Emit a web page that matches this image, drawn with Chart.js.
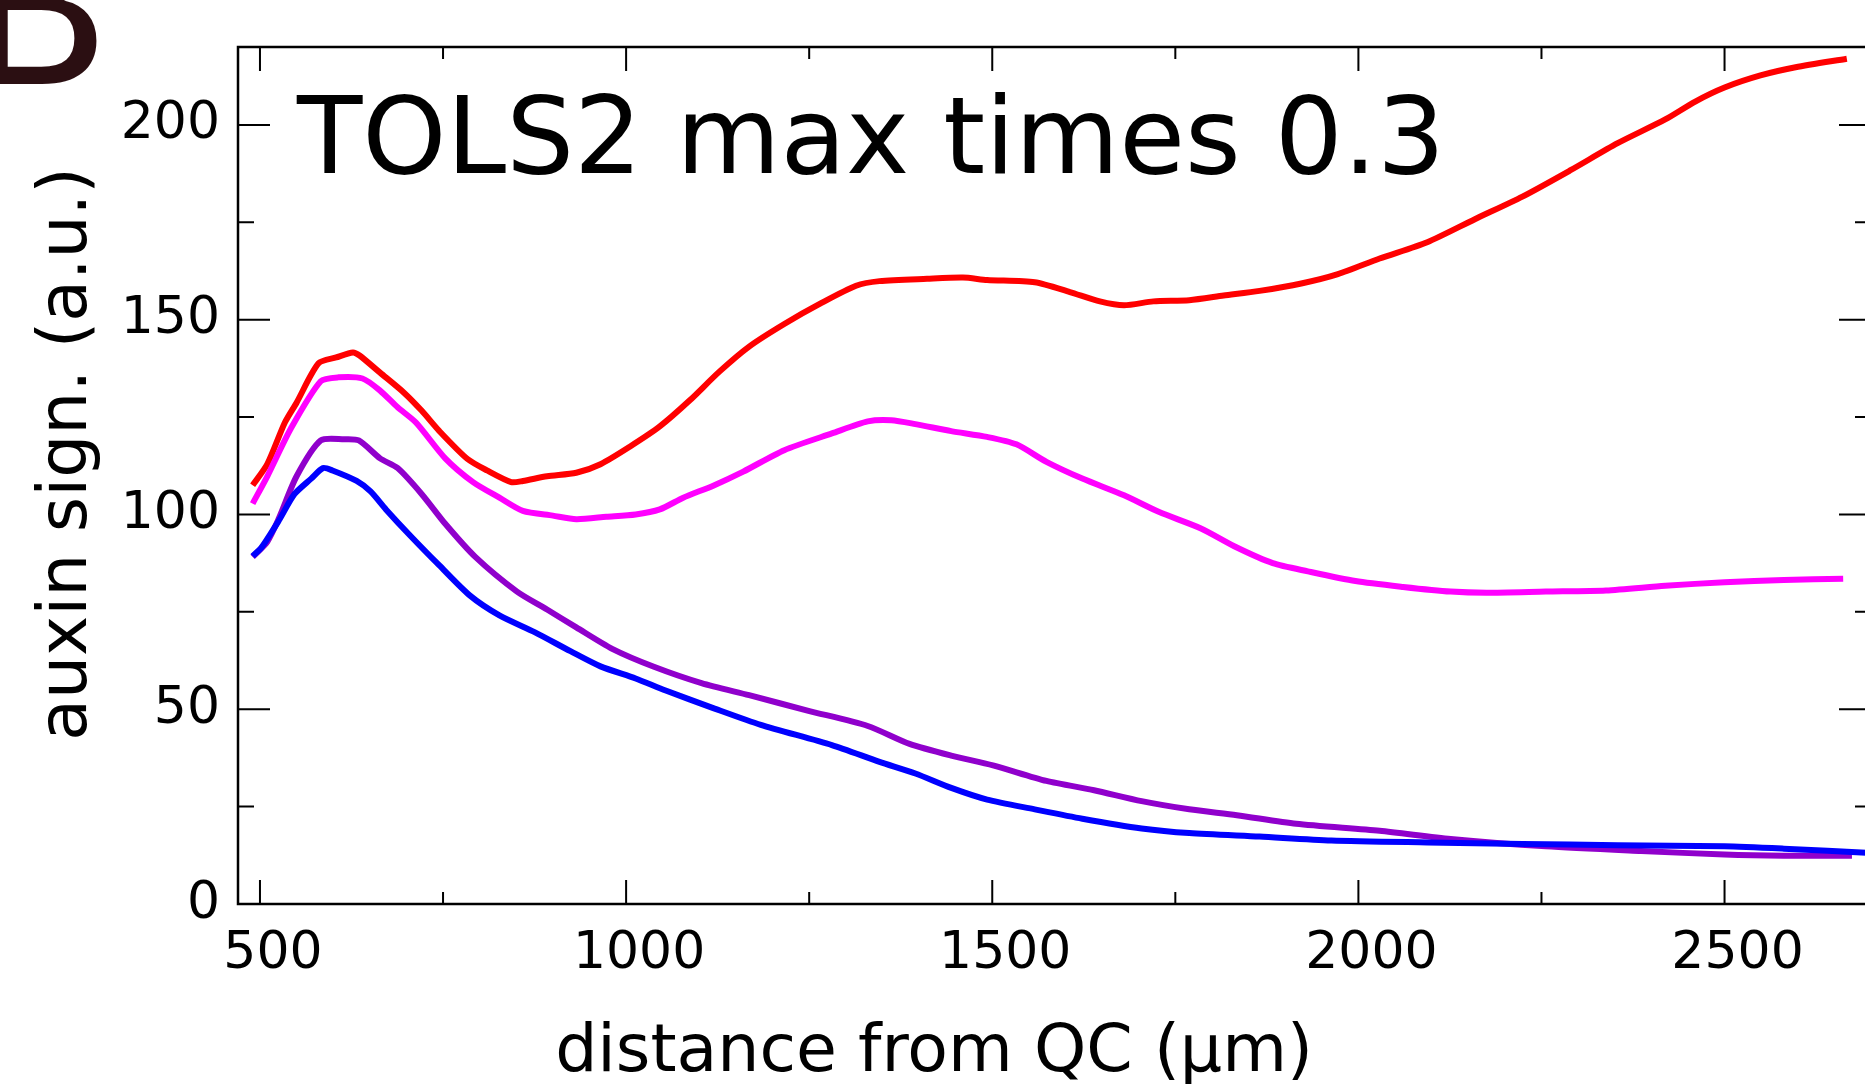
<!DOCTYPE html>
<html>
<head>
<meta charset="utf-8">
<title>TOLS2 max times 0.3</title>
<script src="https://cdn.jsdelivr.net/npm/chart.js@4.4.1/dist/chart.umd.min.js"></script>
<style>
  html, body { margin: 0; padding: 0; background: #fff; overflow: hidden; }
  #wrap { position: relative; width: 1880px; height: 1084px; }
  canvas { display: block; }
</style>
</head>
<body>
<div id="wrap"><canvas id="chart" width="1880" height="1084"></canvas></div>
<script>
// Auxin signal profiles along the root (distance from the quiescent centre)
const panelLetter = 'B';
const panelTitle = 'TOLS2 max times 0.3';
const xAxisTitle = 'distance from QC (µm)';
const yAxisTitle = 'auxin sign. (a.u.)';

const xMajorTicks = [500, 1000, 1500, 2000, 2500];
const xMinorTicks = [750, 1250, 1750, 2250];
const xTickLabels = ['500', '1000', '1500', '2000', '2500'];
const yMajorTicks = [0, 50, 100, 150, 200];
const yMinorTicks = [25, 75, 125, 175];
const yTickLabels = ['0', '50', '100', '150', '200'];

const distRed = [490,510,534,550,580,604,627,636,664,697,721,745,783,810,843,859,892,932,965,1005,1046,1087,1127,1168,1216,1265,1314,1346,1411,1460,1493,1558,1606,1647,1680,1720,1769,1816,1865,1922,1972,2029,2094,2159,2224,2289,2354,2419,2460,2500,2549,2597,2667];
const signalRed = [107.5,112.9,123.6,128.7,138.8,140.3,141.6,140.8,136.4,131.2,126.6,121.4,114.3,111.3,108.3,108.6,109.8,110.7,112.9,117.4,122.6,129.3,136.6,143.1,148.9,154.1,158.7,159.9,160.5,160.8,160.2,159.6,157.1,154.7,153.7,154.7,155.0,156.2,157.4,159.3,161.7,165.7,169.9,175.8,181.6,188.3,195.3,201.4,206.0,209.6,212.7,214.8,217.0];

const distMagenta = [490,510,542,583,607,640,664,688,713,753,791,827,859,900,932,973,1013,1046,1078,1119,1160,1216,1281,1330,1362,1395,1444,1493,1533,1574,1623,1680,1728,1785,1834,1883,1931,1996,2061,2126,2175,2256,2338,2419,2500,2581,2662];
const signalMagenta = [102.8,109.8,122,134.2,135.2,134.9,131.8,127.5,123.6,114.4,108.3,104.3,100.9,99.7,98.8,99.4,100,101.3,104.3,107.4,111,116.5,120.8,123.9,124.2,123.2,121.4,119.9,118.0,113.5,109.2,104.9,100.6,96.4,91.5,87.5,85.4,82.9,81.4,80.2,79.9,80.2,80.5,81.7,82.6,83.2,83.5];

const distPurple = [490,510,526,550,583,615,635,664,688,721,753,794,851,892,932,981,1038,1103,1168,1249,1330,1387,1444,1501,1574,1639,1704,1769,1834,1915,2029,2126,2256,2386,2500,2581,2674];
const signalPurple = [89.1,93.0,99.1,109.8,119,119.3,119,114.4,111.9,105.2,97.6,89.1,80.2,75.6,71.0,65.5,60.9,56.7,53.6,49.6,45.7,41.1,38.1,35.6,31.6,29.2,26.4,24.3,22.8,20.6,18.8,16.7,14.8,13.6,12.7,12.4,12.4];

const distBlue = [490,502,526,547,570,586,599,632,651,672,705,745,786,827,875,924,965,1013,1054,1119,1184,1281,1346,1395,1444,1493,1558,1623,1704,1769,1865,1963,2094,2224,2354,2500,2581,2700];
const signalBlue = [89.3,91.5,98.5,105.2,109.2,111.9,111.3,108.6,105.9,101.3,94.6,86.9,79.3,74.1,69.8,64.9,61.0,57.9,54.8,50.3,46.0,40.8,36.5,33.5,29.8,26.8,24.3,21.9,19.4,18.2,17.3,16.3,15.8,15.4,15.1,14.8,14.2,13.1];

const FONT = "'DejaVu Sans', 'Liberation Sans', sans-serif";

function pairs(xs, ys) {
  return xs.map((x, i) => ({ x: x, y: ys[i] }));
}

function lineSet(xs, ys, color) {
  return {
    data: pairs(xs, ys),
    borderColor: color,
    borderWidth: 6,
    pointRadius: 0,
    fill: false,
    tension: 0.25,
    borderCapStyle: 'butt',
    borderJoinStyle: 'round'
  };
}

// Closed frame with inward-pointing tick marks on all four sides,
// plus the distance labels under the bottom edge
const framePlugin = {
  id: 'frame',
  afterDraw(chart) {
    const { ctx, chartArea: a, scales } = chart;
    const xs = scales.x, ys = scales.y;
    ctx.save();
    ctx.strokeStyle = '#000';
    ctx.lineWidth = 2.5;
    ctx.strokeRect(a.left, a.top, a.right - a.left, a.bottom - a.top);
    ctx.lineWidth = 2;
    ctx.beginPath();
    const xTick = (v, len) => {
      const p = xs.getPixelForValue(v);
      ctx.moveTo(p, a.bottom); ctx.lineTo(p, a.bottom - len);
      ctx.moveTo(p, a.top); ctx.lineTo(p, a.top + len);
    };
    const yTick = (v, len) => {
      const p = ys.getPixelForValue(v);
      ctx.moveTo(a.left, p); ctx.lineTo(a.left + len, p);
      ctx.moveTo(a.right, p); ctx.lineTo(a.right - len, p);
    };
    xMajorTicks.forEach(v => xTick(v, 24));
    xMinorTicks.forEach(v => xTick(v, 12));
    yMajorTicks.forEach(v => yTick(v, 32));
    yMinorTicks.forEach(v => yTick(v, 16));
    ctx.stroke();

    ctx.fillStyle = '#000';
    ctx.font = '52px ' + FONT;
    ctx.textAlign = 'center';
    ctx.textBaseline = 'alphabetic';
    xMajorTicks.forEach((v, i) => {
      ctx.fillText(xTickLabels[i], xs.getPixelForValue(v) + 13, a.bottom + 64);
    });
    ctx.restore();
  }
};

// Panel letter, in-plot title and axis titles
const textPlugin = {
  id: 'texts',
  afterDraw(chart) {
    const { ctx } = chart;
    ctx.save();
    ctx.textBaseline = 'alphabetic';

    ctx.fillStyle = '#2b0f12';
    ctx.font = '212px ' + FONT;
    ctx.textAlign = 'left';
    ctx.fillText(panelLetter, -34, 84);

    ctx.fillStyle = '#000';
    ctx.font = '107px ' + FONT;
    ctx.fillText(panelTitle, 297, 173);

    ctx.font = '66.5px ' + FONT;
    ctx.textAlign = 'center';
    ctx.fillText(xAxisTitle, 934, 1071);

    ctx.font = '68px ' + FONT;
    ctx.translate(86, 454);
    ctx.rotate(-Math.PI / 2);
    ctx.fillText(yAxisTitle, 0, 0);
    ctx.restore();
  }
};

new Chart(document.getElementById('chart'), {
  type: 'line',
  data: {
    datasets: [
      lineSet(distBlue, signalBlue, '#0000ff'),
      lineSet(distPurple, signalPurple, '#9000cc'),
      lineSet(distMagenta, signalMagenta, '#ff00ff'),
      lineSet(distRed, signalRed, '#ff0000')
    ]
  },
  options: {
    responsive: false,
    animation: false,
    events: [],
    layout: { padding: { left: 0, top: 47, right: 9, bottom: 0 } },
    plugins: { legend: { display: false }, tooltip: { enabled: false }, title: { display: false } },
    scales: {
      x: {
        type: 'linear',
        position: 'bottom',
        min: 470,
        max: 2700,
        grid: { display: false, drawTicks: false },
        border: { display: false },
        afterBuildTicks(scale) {
          scale.ticks = xMajorTicks.map(v => ({ value: v }));
        },
        afterFit(scale) {
          scale.height = 180;
          scale.paddingLeft = 0;
          scale.paddingRight = 0;
        },
        ticks: { display: false }
      },
      y: {
        type: 'linear',
        position: 'left',
        min: 0,
        max: 220,
        grid: { display: false, drawTicks: false },
        border: { display: false },
        afterBuildTicks(scale) {
          scale.ticks = yMajorTicks.map(v => ({ value: v }));
        },
        afterFit(scale) {
          scale.width = 238;
          scale.paddingTop = 0;
          scale.paddingBottom = 0;
        },
        ticks: {
          autoSkip: false,
          padding: 18,
          color: '#000',
          font: { family: FONT, size: 52 },
          callback(value) {
            const i = yMajorTicks.indexOf(value);
            return i >= 0 ? yTickLabels[i] : '';
          }
        }
      }
    }
  },
  plugins: [framePlugin, textPlugin]
});
</script>
</body>
</html>
